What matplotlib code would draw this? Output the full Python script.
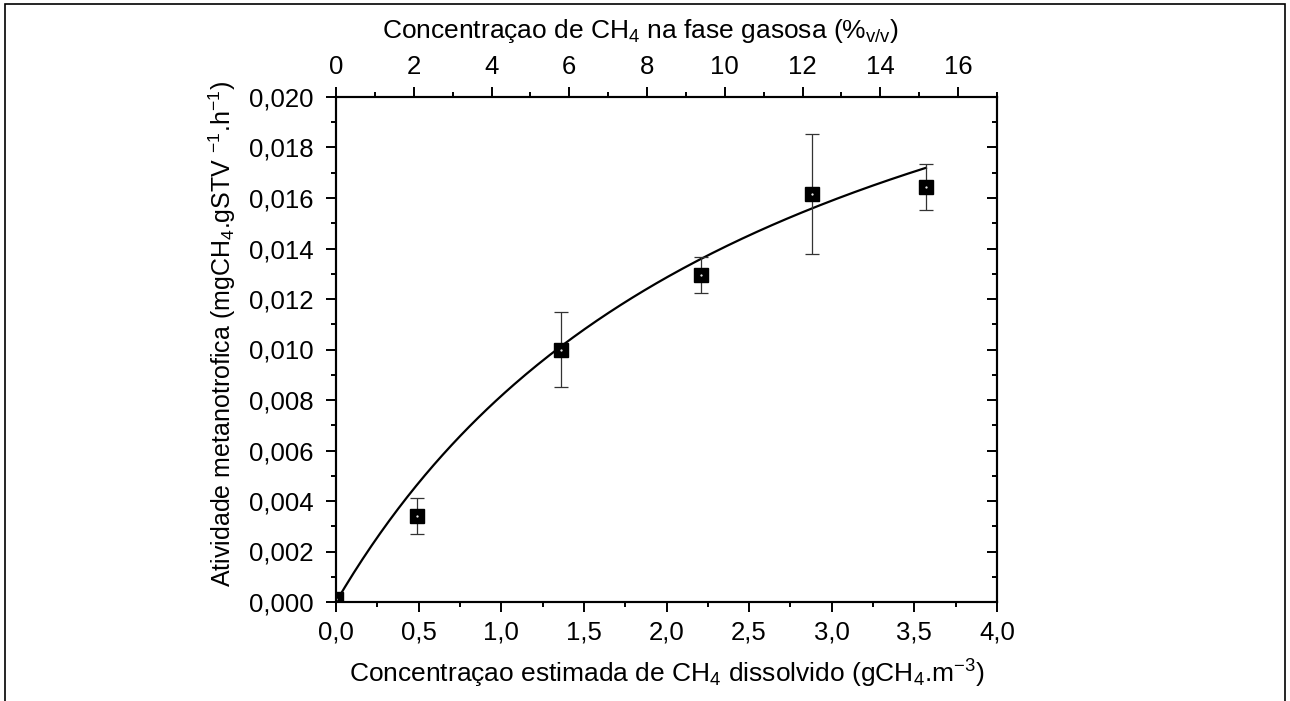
import numpy as np
import matplotlib
matplotlib.use("Agg")
import matplotlib.pyplot as plt
from matplotlib.ticker import MultipleLocator, FuncFormatter
from matplotlib.patches import Rectangle

# Dissolved CH4 (g/m3), methanotrophic activity and its standard deviation
ch4_dissolved = [0.0, 0.49, 1.36, 2.21, 2.88, 3.57]
activity = [0.0001, 0.00341, 0.0100, 0.01295, 0.01616, 0.01644]
activity_sd = [0.0, 0.0007, 0.0015, 0.00073, 0.00236, 0.0009]

# Michaelis-Menten fit parameters
vmax = 0.0302
km = 2.70

# gas-phase %v/v per g/m3 of dissolved CH4
gas_factor = 4.25

plt.rcParams['font.family'] = ['Liberation Sans', 'DejaVu Sans']
plt.rcParams['mathtext.fontset'] = 'custom'
plt.rcParams['mathtext.rm'] = 'Liberation Sans'
plt.rcParams['mathtext.it'] = 'Liberation Sans'
plt.rcParams['mathtext.bf'] = 'Liberation Sans'

fig = plt.figure(figsize=(12.9, 7.01), dpi=100)
ax = fig.add_axes([336 / 1290, 99 / 701, 661 / 1290, 505 / 701])

# outer frame
fig.patches.append(Rectangle((5 / 1290, -0.02), 1280 / 1290, 0.02 + 697 / 701,
                             transform=fig.transFigure, fill=False,
                             edgecolor='black', linewidth=1.2))

x_fit = np.linspace(0, max(ch4_dissolved), 200)
y_fit = vmax * x_fit / (km + x_fit)
ax.plot(x_fit, y_fit, color='black', lw=1.6, zorder=2)

ax.errorbar(ch4_dissolved, activity, yerr=activity_sd, fmt='none',
            ecolor='#333333', elinewidth=0.9, capsize=5, capthick=0.9, zorder=3)
ax.plot(ch4_dissolved, activity, 's', color='black', markersize=10.3,
        zorder=4, clip_on=True)
ax.plot(ch4_dissolved, activity, '.', color='white', markersize=1.2, zorder=5)

ax.set_xlim(0, 4.0)
ax.set_ylim(0, 0.020)

comma = lambda fmt: FuncFormatter(lambda v, p: (fmt % v).replace('.', ','))
ax.xaxis.set_major_locator(MultipleLocator(0.5))
ax.xaxis.set_minor_locator(MultipleLocator(0.25))
ax.xaxis.set_major_formatter(comma('%.1f'))
ax.yaxis.set_major_locator(MultipleLocator(0.002))
ax.yaxis.set_minor_locator(MultipleLocator(0.001))
ax.yaxis.set_major_formatter(comma('%.3f'))

for s in ax.spines.values():
    s.set_linewidth(1.5)

ax.tick_params(axis='both', which='both', direction='out', width=1.4,
               labelsize=18.5, top=False)
ax.tick_params(which='major', length=7, pad=6)
ax.tick_params(axis='y', which='major', pad=9)
ax.tick_params(which='minor', length=3.5)
ax.tick_params(axis='y', which='both', right=True, labelright=False)

ax.set_xlabel('Concentraçao estimada de CH$_4$ dissolvido (gCH$_4$.m$^{-3}$)',
              fontsize=19, labelpad=10)
ax.set_ylabel('Atividade metanotrofica (mgCH$_4$.gSTV $^{-1}$.h$^{-1}$)',
              fontsize=18)
ax.yaxis.set_label_coords(-0.148, 0.53)

# right spine ticks point inward
for t in ax.yaxis.get_major_ticks() + ax.yaxis.get_minor_ticks():
    t.tick2line.set_marker(matplotlib.lines.TICKLEFT)

top = ax.twiny()
top.set_xlim(0, 4.0 * gas_factor)
top.xaxis.set_major_locator(MultipleLocator(2))
top.xaxis.set_minor_locator(MultipleLocator(1))
top.tick_params(axis='x', which='both', direction='out', width=1.4, labelsize=18.5)
top.tick_params(which='major', length=7, pad=6)
top.tick_params(which='minor', length=3.5)
for s in top.spines.values():
    s.set_linewidth(1.5)
top.set_xlabel('Concentraçao de CH$_4$ na fase gasosa (%$_{v/v}$)',
               fontsize=19, labelpad=12)
top.xaxis.label.set_x(0.46)

fig.savefig('out.png', dpi=100)
